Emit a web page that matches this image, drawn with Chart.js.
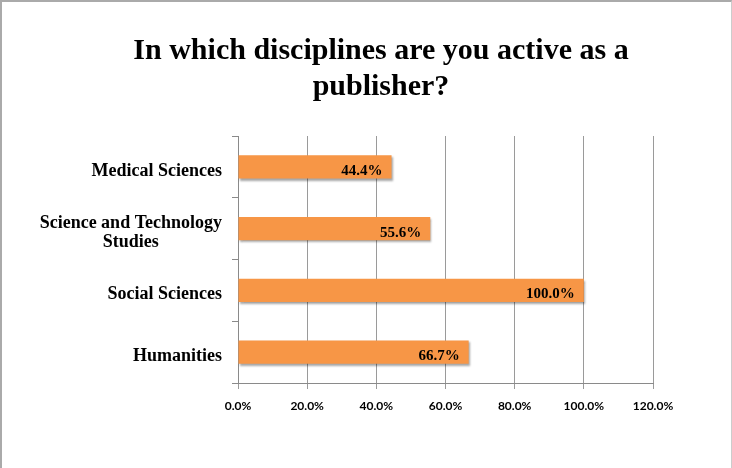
<!DOCTYPE html>
<html>
<head>
<meta charset="utf-8">
<script src="https://cdn.jsdelivr.net/npm/chart.js@4"></script>
<style>
  body { margin: 0; background: #fff; }
  #wrap { position: relative; width: 732px; height: 468px; }
  #frame { position: absolute; left: 0; top: 0; width: 729px; height: 480px;
           border-top: 2px solid #aaa; border-left: 2px solid #aaa; border-right: 1px solid #ccc;
           pointer-events: none; }
</style>
</head>
<body>
<div id="wrap">
  <canvas id="chart" width="732" height="468"></canvas>
  <div id="frame"></div>
</div>
<script>
// chart data
const titleLines = ['In which disciplines are you active as a', 'publisher?'];
const categories = [['Medical Sciences'], ['Science and Technology', 'Studies'], ['Social Sciences'], ['Humanities']];
const shares = [0.444, 0.556, 1.0, 0.667];
const axisMax = 1.2;
const axisStep = 0.2;

const pct = v => (v * 100).toFixed(1) + '%';

// draws the category names, multi-line ones centred like Excel does
const categoryLabels = {
  id: 'categoryLabels',
  afterDraw(chart) {
    const ctx = chart.ctx;
    const y = chart.scales.y;
    ctx.save();
    ctx.font = 'bold 18px "Liberation Serif"';
    ctx.fillStyle = '#000';
    ctx.textAlign = 'center';
    ctx.textBaseline = 'middle';
    const lh = 19;
    categories.forEach((lines, i) => {
      const cy = y.getPixelForValue(i) + 4;
      const w = Math.max(...lines.map(l => ctx.measureText(l).width));
      const cx = chart.chartArea.left - 16 - w / 2;
      lines.forEach((l, j) => {
        ctx.fillText(l, cx, cy + (j - (lines.length - 1) / 2) * lh);
      });
    });
    ctx.restore();
  }
};

// value labels inside the end of each bar
const valueLabels = {
  id: 'valueLabels',
  beforeDatasetsDraw(chart) {
    const ctx = chart.ctx;
    ctx.save();
    ctx.shadowColor = 'rgba(0,0,0,0.35)';
    ctx.shadowOffsetX = 1;
    ctx.shadowOffsetY = 2;
    ctx.shadowBlur = 2;
  },
  afterDatasetsDraw(chart) {
    const ctx = chart.ctx;
    ctx.restore();
    ctx.save();
    ctx.font = 'bold 15px "Liberation Serif"';
    ctx.fillStyle = '#000';
    ctx.textAlign = 'right';
    ctx.textBaseline = 'middle';
    chart.getDatasetMeta(0).data.forEach((bar, i) => {
      ctx.fillText(pct(shares[i]), bar.x - 9, bar.y + 4);
    });
    ctx.restore();
  }
};

new Chart(document.getElementById('chart'), {
  type: 'bar',
  data: {
    labels: categories.map(c => c.join(' ')),
    datasets: [{
      data: shares,
      backgroundColor: '#F79646',
      borderWidth: 0,
      categoryPercentage: 1,
      barPercentage: 0.38
    }]
  },
  options: {
    indexAxis: 'y',
    responsive: false,
    animation: false,
    layout: { padding: { left: 109, right: 79, top: 10, bottom: 50 } },
    plugins: {
      legend: { display: false },
      tooltip: { enabled: false },
      title: {
        display: true,
        text: titleLines,
        color: '#000',
        font: { family: '"Liberation Serif"', size: 30, weight: 'bold', lineHeight: 1.2 },
        padding: { top: 23, bottom: 31 }
      }
    },
    scales: {
      x: {
        min: 0,
        max: axisMax,
        border: { color: '#8a8a8a' },
        grid: { color: '#9a9a9a', drawTicks: true, tickLength: 6 },
        ticks: {
          stepSize: axisStep,
          padding: 10,
          color: '#000',
          font: { family: 'Lato', size: 12, weight: 'bold' },
          callback: v => pct(v)
        },
        afterFit(scale) { scale.height = 35; }
      },
      y: {
        border: { color: '#8a8a8a' },
        grid: { drawOnChartArea: false, drawTicks: true, tickLength: 6, color: '#8a8a8a' },
        ticks: { display: false },
        afterFit(scale) { scale.width = 129; }
      }
    }
  },
  plugins: [valueLabels, categoryLabels]
});
</script>
</body>
</html>
